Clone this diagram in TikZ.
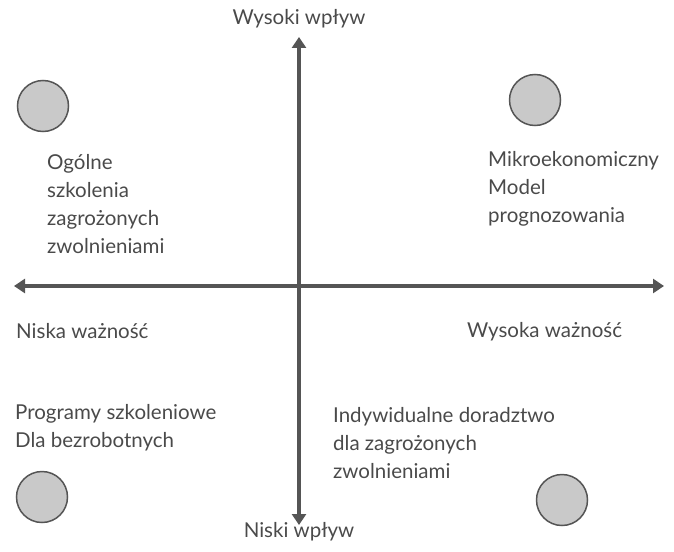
\documentclass[tikz,border=0pt]{standalone}
\usepackage{fontspec}
\setmainfont{Lato}
\usetikzlibrary{arrows.meta}
\definecolor{axisgray}{HTML}{555555}
\definecolor{textgray}{HTML}{4A4A4A}
\definecolor{dotgray}{HTML}{C9C9C9}

\begin{document}
\begin{tikzpicture}[x=1pt,y=-1pt,
    axis/.style={draw=axisgray,line width=4pt,
      {Triangle[length=11pt,width=14pt]}-{Triangle[length=11pt,width=14pt]}},
    dot/.style={circle,draw=axisgray,line width=1.5pt,fill=dotgray,
      minimum size=51pt,inner sep=0pt},
    quad/.style={text=textgray,font=\fontsize{20.5}{27.7}\selectfont,
      align=left,inner sep=0pt,anchor=base west},
    pole/.style={text=textgray,font=\fontsize{20.5}{27.7}\selectfont,
      inner sep=0pt,anchor=base}]

  \useasboundingbox (0,0) rectangle (674,551);

  % axes
  \coordinate (left)   at (14,286);
  \coordinate (right)  at (664,286);
  \coordinate (top)    at (299,37);
  \coordinate (bottom) at (299,525);
  \draw[axis] (left) -- (right);
  \draw[axis] (top) -- (bottom);

  % axis labels
  \node[pole] (high) at (299,25)  {Wysoki wpływ};
  \node[pole] (low)  at (299,537) {Niski wpływ};
  \node[quad] (lowimp)  at (16,338)  {Niska ważność};
  \node[quad] (highimp) at (467,337) {Wysoka ważność};

  % circles
  \node[dot] (c1) at (43,106)  {};
  \node[dot] (c2) at (535,100) {};
  \node[dot] (c3) at (42,497)  {};
  \node[dot] (c4) at (562,500) {};

  % quadrant texts (anchored at the last line)
  \node[quad] (q1) at (47,253)  {Ogólne\\szkolenia\\zagrożonych\\zwolnieniami};
  \node[quad] (q2) at (488,222) {Mikroekonomiczny\\Model\\prognozowania};
  \node[quad] (q3) at (15,447)  {Programy szkoleniowe\\Dla bezrobotnych};
  \node[quad] (q4) at (333,478) {Indywidualne doradztwo\\dla zagrożonych\\zwolnieniami};

\end{tikzpicture}
\end{document}
